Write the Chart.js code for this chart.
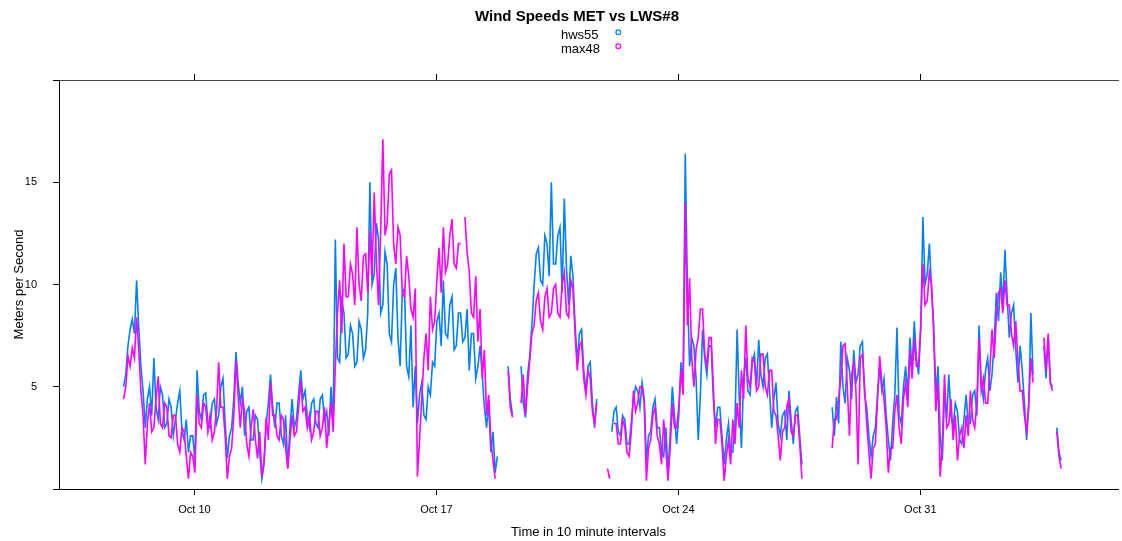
<!DOCTYPE html>
<html>
<head>
<meta charset="utf-8">
<script src="https://cdn.jsdelivr.net/npm/chart.js@4.4.1/dist/chart.umd.min.js"></script>
<style>
  html, body { margin: 0; padding: 0; background: #fff; }
  #wrap { width: 1122px; height: 541px; }
</style>
</head>
<body>
<div id="wrap"><canvas id="grafico" width="1122" height="541"></canvas></div>
<script>
// Serie de 10 minutos (aprox. cada hora y media), dias de octubre
const startDay = 7.95;      // 7 oct ~23:00
const stepDays = 0.0625;    // 1.5 horas
const seriesNames = ['hws55', 'max48'];
const seriesColors = ['#0080ff', '#ff00ff'];
const tickDays = [10, 17, 24, 31];
const tickLabels = ['Oct 10', 'Oct 17', 'Oct 24', 'Oct 31'];
const yTicks = [0, 5, 10, 15, 20];
const yLabels = ['', '5', '10', '15', ''];

const hws55 = [
  5.0,5.6, 7.0,7.8, 8.3,7.6, 10.2,7.9, 6.0,4.8,
  3.0,4.4, 5.0,3.6, 6.4,4.0, 3.4,5.0, 4.6,3.0,
  3.2,4.4, 4.0,2.6, 3.4,4.2, 4.8,2.8, 2.4,3.4,
  1.8,2.6, 2.6,1.4, 5.8,3.8, 3.4,4.6, 4.7,3.2,
  3.0,4.2, 4.4,3.2, 3.6,5.0, 5.4,3.2, 1.5,2.6,
  3.0,4.4, 6.7,5.2, 4.2,5.0, 2.6,3.8, 4.0,2.4,
  2.4,3.6, 3.4,1.8, 0.5,1.2, 3.2,4.2, 5.6,4.0,
  3.0,4.2, 4.2,2.6, 2.2,3.6, 1.0,3.0, 4.4,3.0,
  3.4,4.6, 5.8,4.4, 4.8,3.6, 3.0,4.2, 4.4,3.2,
  3.0,4.4, 4.6,3.4, 3.8,2.6, 5.0,3.2, 12.2,6.4,
  6.2,9.2, 8.6,6.4, 6.6,8.0, 7.6,6.0, 6.2,8.2,
  7.8,6.4, 6.8,8.6, 15.0,10.0, 10.5,13.0, 12.2,8.6,
  9.0,11.6, 11.0,7.6, 7.2,10.0, 10.8,7.4, 6.0,9.6,
  9.8,6.0, 5.5,8.0, 4.0,6.0, 3.2,4.6, 5.2,3.6,
  3.4,5.0, 4.6,6.2, 6.0,8.2, 8.6,7.0, 10.2,7.6,
  7.4,9.0, 9.4,6.8, 7.0,8.6, 8.6,7.2, 7.4,8.8,
  5.8,7.6, 7.6,5.4, 6.0,7.0, 5.6,4.0, 3.0,4.2,
  1.8,2.8, 0.8,1.6, null,null, null,null, 6.0,4.4,
  3.6,null, null,null, 6.0,4.2, 3.5,5.6, 6.5,8.0,
  9.9,11.5, 11.8,10.2, 10.0,12.4, 12.0,10.4, 15.0,11.0,
  11.0,12.4, 12.8,9.6, 14.2,10.8, 9.0,11.4, 10.4,8.0,
  6.2,7.6, 7.8,5.8, 4.8,6.0, 6.2,4.2, 3.0,4.4,
  null,null, null,null, null,null, 2.8,3.8, 4.0,2.8,
  2.6,3.6, 3.4,2.2, 2.2,3.2, 4.4,5.0, 4.8,4.0,
  5.2,4.4, 1.4,2.6, 2.8,4.0, 4.4,3.0, 3.0,1.8,
  1.6,3.0, 0.8,2.6, 5.0,3.6, 2.2,3.6, 6.2,5.0,
  16.4,9.7, 6.0,7.4, 7.0,5.4, 2.4,4.6, 7.8,6.4,
  5.6,7.0, 7.0,4.4, 3.0,4.0, 4.0,2.6, 1.2,2.4,
  3.2,1.8, 1.8,3.2, 7.8,4.4, 2.0,5.4, 6.4,4.8,
  4.6,6.2, 6.6,5.0, 7.3,5.6, 5.0,6.4, 6.6,4.8,
  3.0,4.4, 5.2,3.2, 2.6,3.6, 3.8,2.4, 4.8,3.4,
  2.2,3.8, 4.0,2.6, 1.2,null, null,null, null,null,
  null,null, null,null, null,null, null,null, 4.0,2.6,
  4.5,3.2, 7.2,5.0, 4.2,6.4, 5.8,4.4, 6.8,5.2,
  5.6,7.0, 7.2,4.6, 4.0,2.6, 1.6,2.6, 3.0,4.6,
  6.0,4.8, 5.4,3.6, 2.4,1.4, 3.2,4.6, 7.9,3.6,
  3.2,5.0, 6.0,4.6, 7.4,5.8, 8.2,6.4, 5.6,7.8,
  13.3,10.0, 10.5,12.0, 9.8,8.0, 4.6,6.0, 2.6,1.4,
  4.8,3.4, 5.6,3.6, 3.0,4.2, 3.8,2.4, 2.2,3.4,
  4.6,3.2, 3.2,4.6, 4.8,3.6, 8.0,5.2, 4.4,5.8,
  6.4,4.8, 5.6,7.2, 9.6,8.2, 10.6,9.0, 11.7,9.4,
  7.4,8.6, 9.0,6.8, 5.2,7.0, 5.8,4.2, 2.4,4.0,
  8.6,5.6, null,null, null,null, 7.0,5.4, 7.4,5.2,
  5.0,null, 3.0,1.8, 1.4,null
];

const max48 = [
  4.4,5.0, 6.5,6.0, 6.9,6.4, 8.4,6.8, 4.8,3.6,
  1.2,3.2, 4.2,2.8, 3.0,4.4, 5.5,3.2, 3.0,4.2,
  4.0,2.6, 2.5,3.6, 3.6,2.2, 1.8,3.0, 2.8,1.6,
  0.5,1.8, 1.6,0.8, 4.6,3.2, 3.0,4.2, 4.0,2.8,
  3.6,2.4, 2.8,3.8, 6.2,4.0, 4.0,2.6, 0.5,1.6,
  2.0,3.6, 6.3,4.6, 3.0,4.4, 3.8,2.2, 1.6,3.0,
  3.9,2.4, 1.5,2.8, 0.6,1.4, 3.5,2.4, 5.2,3.6,
  3.6,2.6, 2.4,3.6, 3.4,2.0, 1.0,2.4, 3.6,2.6,
  2.8,4.0, 5.3,3.8, 4.0,3.0, 3.6,2.4, 2.8,3.8,
  3.8,2.6, 3.0,4.0, 2.0,3.2, 4.2,2.8, 6.0,8.6,
  10.2,7.6, 12.0,9.4, 9.4,11.0, 10.5,9.0, 12.8,10.0,
  9.2,11.4, 11.5,9.6, 12.6,10.4, 14.5,11.2, 9.0,12.6,
  17.1,12.4, 13.0,15.4, 15.6,12.0, 11.0,12.8, 12.4,9.6,
  9.4,11.4, 10.4,8.8, 8.4,9.8, 0.6,2.4, 4.4,6.4,
  7.6,5.8, 9.4,7.8, 8.2,10.2, 11.8,9.6, 12.8,10.6,
  11.0,12.4, 13.2,11.0, 10.8,12.0, 12.0,null, 13.3,11.6,
  10.6,8.6, 8.4,10.4, 7.2,8.8, 5.4,6.8, 3.6,4.6,
  2.4,1.4, 0.5,null, null,null, null,null, 5.8,4.0,
  3.5,null, null,null, 4.2,5.6, 3.6,5.0, 6.3,7.6,
  8.0,9.2, 9.6,8.2, 7.8,9.4, 9.8,8.4, 8.6,9.8,
  10.0,8.6, 8.4,10.0, 10.6,8.6, 8.4,10.2, 9.8,7.6,
  5.8,7.0, 7.2,5.4, 4.6,5.8, 5.4,3.8, 3.2,4.2,
  null,null, null,null, 1.0,0.5, null,3.2, 3.2,2.2,
  2.2,3.4, 3.0,1.8, 1.6,2.8, 4.8,3.8, 4.2,5.0,
  5.0,4.2, 0.4,2.0, 2.4,3.6, 4.0,2.6, 2.2,1.2,
  3.4,2.0, 0.4,2.0, 4.2,3.0, 3.0,4.0, 5.8,4.6,
  14.0,8.0, 10.3,6.4, 5.0,6.8, 7.4,8.8, 8.8,6.6,
  6.0,7.4, 7.4,5.0, 2.2,3.4, 3.4,2.2, 0.4,1.6,
  2.4,1.2, 3.4,2.2, 4.2,3.0, 5.8,4.4, 8.0,5.4,
  5.0,6.4, 6.2,4.8, 5.0,6.6, 6.6,5.0, 4.6,5.8,
  5.8,3.8, 3.6,2.6, 1.4,2.8, 3.0,4.0, 4.4,2.8,
  2.6,3.6, 3.6,2.2, 0.5,null, null,null, null,null,
  null,null, null,null, null,null, null,null, 2.0,3.4,
  3.4,4.4, 5.4,7.0, 7.1,5.0, 2.6,5.6, 6.2,4.8,
  1.2,6.4, 6.6,5.0, 3.2,1.8, 0.5,2.0, 2.2,4.4,
  6.5,5.2, 4.4,3.0, 0.8,2.0, 2.0,3.8, 4.6,3.0,
  2.2,4.4, 5.2,4.0, 6.8,5.4, 7.4,6.0, 6.0,8.0,
  11.0,9.0, 9.2,10.6, 10.0,7.6, 3.8,5.2, 0.6,2.2,
  5.6,3.0, 3.2,4.4, 2.4,3.6, 1.4,2.6, 3.0,2.0,
  3.6,2.6, 4.8,3.4, 3.0,4.2, 7.4,4.8, 5.4,4.2,
  4.2,5.8, 7.8,6.4, 8.4,9.6, 9.8,8.6, 10.2,9.0,
  9.0,7.6, 7.0,8.2, 6.2,4.8, 4.8,3.6, 2.8,4.2,
  6.4,5.2, null,null, null,null, 7.4,5.8, 7.6,5.2,
  4.8,null, 2.8,1.6, 1.0,null
];

const FONT = '"Liberation Sans", Arial, Helvetica, sans-serif';
const toPoints = arr => arr.map((v, i) => ({ x: startDay + i * stepDays, y: v }));

// titulo, leyenda y titulos de ejes a la manera de lattice
const decor = {
  id: 'decor',
  afterDraw(chart) {
    const ctx = chart.ctx, a = chart.chartArea;
    ctx.save();
    ctx.fillStyle = '#000';
    ctx.textBaseline = 'alphabetic';
    ctx.textAlign = 'center';
    ctx.font = 'bold 15px ' + FONT;
    ctx.fillText('Wind Speeds MET vs LWS#8', 577, 21);

    ctx.font = '13px ' + FONT;
    ctx.textAlign = 'left';
    seriesNames.forEach((n, k) => {
      ctx.fillStyle = '#000';
      ctx.fillText(n, 561, 39 + k * 14);
      ctx.beginPath();
      ctx.arc(618.3, 32.3 + k * 14, 2.4, 0, Math.PI * 2);
      ctx.strokeStyle = seriesColors[k];
      ctx.lineWidth = 1.2;
      ctx.stroke();
    });

    ctx.fillStyle = '#000';
    ctx.textAlign = 'center';
    ctx.fillText('Time in 10 minute intervals', (a.left + a.right) / 2, 536);

    ctx.translate(23, (a.top + a.bottom) / 2);
    ctx.rotate(-Math.PI / 2);
    ctx.fillText('Meters per Second', 0, 0);
    ctx.restore();
  }
};

new Chart(document.getElementById('grafico').getContext('2d'), {
  type: 'line',
  data: {
    datasets: [
      { label: seriesNames[0], data: toPoints(hws55), borderColor: seriesColors[0],
        borderWidth: 1.6, pointRadius: 0, tension: 0, spanGaps: false, order: 2 },
      { label: seriesNames[1], data: toPoints(max48), borderColor: seriesColors[1],
        borderWidth: 1.6, pointRadius: 0, tension: 0, spanGaps: false, order: 1 }
    ]
  },
  options: {
    responsive: false,
    animation: false,
    devicePixelRatio: 1,
    layout: { padding: { top: 74, right: 4, bottom: 0, left: 0 } },
    plugins: { legend: { display: false }, title: { display: false }, tooltip: { enabled: false } },
    scales: {
      x: {
        type: 'linear', position: 'bottom', min: 6.08, max: 36.72,
        afterBuildTicks: s => { s.ticks = tickDays.map(v => ({ value: v })); },
        afterFit: s => { s.height = 52; },
        ticks: { autoSkip: false, maxRotation: 0, padding: 8, color: '#000',
                 font: { family: FONT, size: 11 },
                 callback: v => tickLabels[tickDays.indexOf(v)] },
        grid: { drawOnChartArea: false, drawTicks: true, tickLength: 6, color: '#000' },
        border: { display: true, color: '#000', width: 1 }
      },
      xTop: {
        type: 'linear', axis: 'x', position: 'top', min: 6.08, max: 36.72,
        afterBuildTicks: s => { s.ticks = tickDays.map(v => ({ value: v })); },
        afterFit: s => { s.height = 6; },
        ticks: { autoSkip: false, maxRotation: 0, callback: () => '' },
        grid: { drawOnChartArea: false, drawTicks: true, tickLength: 6, color: '#000' },
        border: { display: true, color: '#444', width: 1 }
      },
      y: {
        type: 'linear', position: 'left', min: 0, max: 20,
        afterBuildTicks: s => { s.ticks = yTicks.map(v => ({ value: v })); },
        afterFit: s => { s.width = 59; },
        ticks: { padding: 16, color: '#000', font: { family: FONT, size: 11 },
                 callback: v => yLabels[yTicks.indexOf(v)] },
        grid: { drawOnChartArea: false, drawTicks: true, tickLength: 6, color: '#000' },
        border: { display: true, color: '#000', width: 1 }
      }
    }
  },
  plugins: [decor]
});
</script>
</body>
</html>
